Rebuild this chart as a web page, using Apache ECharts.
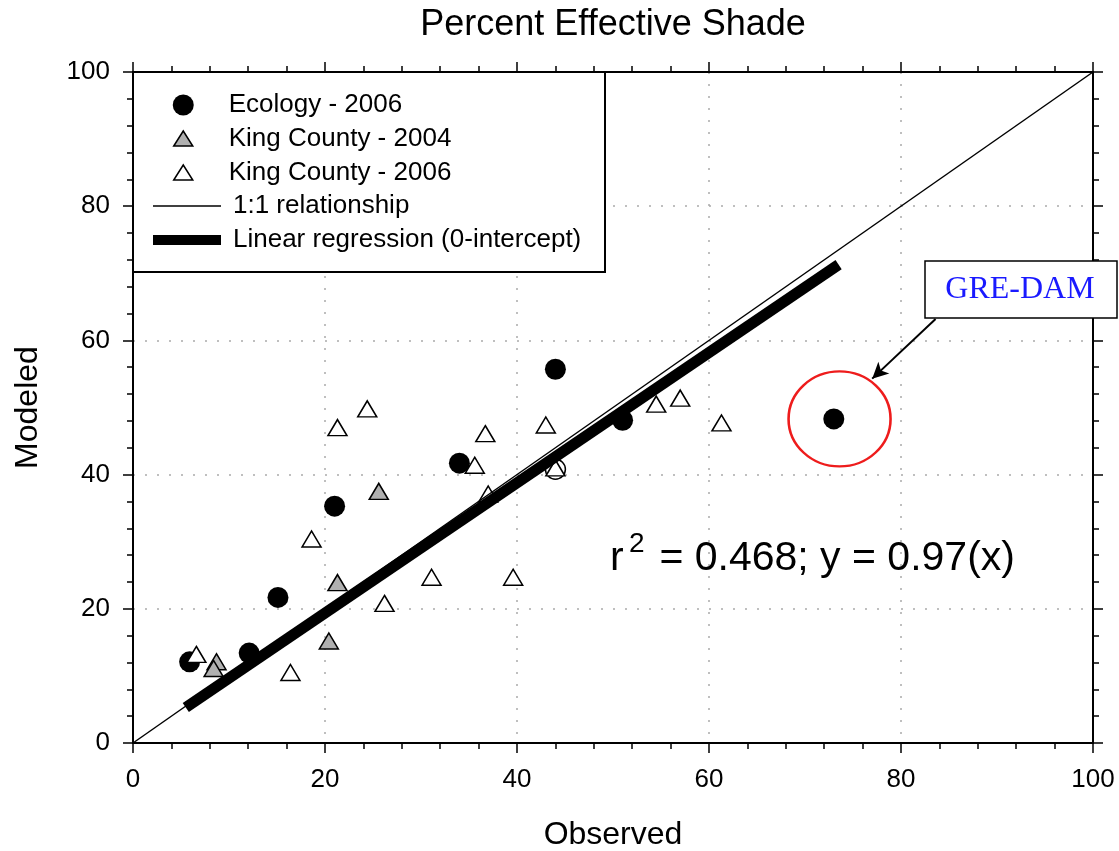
<!DOCTYPE html>
<html>
<head>
<meta charset="utf-8">
<script src="https://cdn.jsdelivr.net/npm/echarts@6/dist/echarts.min.js"></script>
<style>
  html, body { margin: 0; padding: 0; background: #fff; }
  #chart { width: 1119px; height: 851px; }
</style>
</head>
<body>
<div id="chart"></div>
<script>
// values: [observed, modeled]
const ecology2006 = [
  [5.9, 12.1], [12.1, 13.4], [15.1, 21.7], [21.0, 35.3],
  [34.0, 41.7], [44.0, 55.7], [51.0, 48.1], [73.0, 48.3]
];
const ecologyOpen = [[44.0, 40.8]];
const kingCounty2004 = [
  [8.7, 12.1], [8.4, 11.1], [20.4, 15.2], [21.3, 23.9], [25.6, 37.5]
];
const kingCounty2006 = [
  [6.6, 13.2], [16.4, 10.5], [18.6, 30.4], [21.3, 47.0], [24.4, 49.8],
  [26.2, 20.8], [31.1, 24.7], [35.6, 41.4], [36.7, 46.1], [37.0, 37.1],
  [39.6, 24.7], [43.0, 47.4], [44.0, 41.0], [54.5, 50.5], [57.0, 51.4],
  [61.3, 47.7]
];
const oneToOne = [[0, 0], [100, 100]];
const regression = [[5.5, 5.3], [73.5, 71.3]];
const greDam = [[73.6, 48.3]];
const arrowFrom = [83.6, 63.2];
const arrowTo = [77.0, 54.3];
const axisTicks = [0, 20, 40, 60, 80, 100];

const FONT = 'Liberation Sans, Arial, sans-serif';
const chart = echarts.init(document.getElementById('chart'));

function baseAxis(pos, showLabel) {
  return {
    type: 'value',
    position: pos,
    min: axisTicks[0],
    max: axisTicks[axisTicks.length - 1],
    interval: axisTicks[1] - axisTicks[0],
    axisLine: { show: true, onZero: false, lineStyle: { color: '#000', width: 2 } },
    axisTick: { show: true, inside: false, length: 10, lineStyle: { color: '#000', width: 1.5 } },
    minorTick: { show: true, splitNumber: 5, length: 6, lineStyle: { color: '#000', width: 1.5 } },
    splitLine: showLabel
      ? { show: true, lineStyle: { color: '#aaa', width: 1.5, type: [2, 10] } }
      : { show: false },
    axisLabel: { show: showLabel, color: '#000', fontSize: 26, fontFamily: FONT }
  };
}

const xBottom = baseAxis('bottom', true);
xBottom.axisLabel.margin = 24;
xBottom.name = 'Observed';
xBottom.nameLocation = 'middle';
xBottom.nameGap = 76;
xBottom.nameTextStyle = { color: '#000', fontSize: 32, fontFamily: FONT };

const yLeft = baseAxis('left', true);
yLeft.axisLabel.margin = 23;
yLeft.name = 'Modeled';
yLeft.nameLocation = 'middle';
yLeft.nameGap = 89;
yLeft.nameTextStyle = { color: '#000', fontSize: 32, fontFamily: FONT };

const triSize = [19, 16];
const noDot = { color: 'rgba(0,0,0,0)', borderWidth: 0 };
// legend triangle drawn smaller than the legend circle (box kept 21x21)
const legendTri = 'path://M0,0 M21,21 M1,17.5 L10.5,2.5 L20,17.5 Z';

chart.setOption({
  backgroundColor: '#fff',
  animation: false,
  title: {
    text: 'Percent Effective Shade',
    left: 613,
    textAlign: 'center',
    top: 7,
    padding: 0,
    textStyle: { color: '#000', fontSize: 36, fontWeight: 'normal', fontFamily: FONT }
  },
  grid: { left: 133, right: 26, top: 72, bottom: 108, containLabel: false, outerBoundsMode: 'none' },
  xAxis: [xBottom, baseAxis('top', false)],
  yAxis: [yLeft, baseAxis('right', false)],
  legend: [
    {
      orient: 'vertical',
      z: 10,
      padding: 0,
      left: 172,
      top: 88,
      itemWidth: 21,
      itemHeight: 21,
      itemGap: 0,
      textStyle: { color: '#000', fontSize: 26, fontFamily: FONT, lineHeight: 34, padding: [0, 0, 0, 30] },
      data: [
        { name: 'Ecology - 2006', icon: 'circle', itemStyle: { borderWidth: 0 } },
        { name: 'King County - 2004', icon: legendTri, itemStyle: { borderWidth: 1.5, borderColor: '#000' } },
        { name: 'King County - 2006', icon: legendTri, itemStyle: { borderWidth: 1.5, borderColor: '#000' } }
      ]
    },
    {
      orient: 'vertical',
      z: 10,
      padding: 0,
      left: 148,
      top: 189,
      itemWidth: 68,
      itemHeight: 12,
      itemGap: 0,
      textStyle: { color: '#000', fontSize: 26, fontFamily: FONT, lineHeight: 34, padding: [0, 0, 0, 7] },
      data: [
        { name: '1:1 relationship', lineStyle: { width: 1.5 }, itemStyle: noDot },
        { name: 'Linear regression (0-intercept)', lineStyle: { width: 10 }, itemStyle: noDot }
      ]
    }
  ],
  graphic: [
    {
      type: 'rect',
      z: 5,
      shape: { x: 133, y: 72, width: 472, height: 200 },
      style: { fill: '#fff', stroke: '#000', lineWidth: 2 }
    },
    {
      type: 'rect',
      z: 20,
      shape: { x: 925, y: 261, width: 192, height: 57 },
      style: { fill: '#fff', stroke: '#000', lineWidth: 1.5 }
    },
    {
      type: 'text',
      z: 21,
      x: 1020,
      y: 290,
      style: {
        text: 'GRE-DAM',
        fill: '#1a1aff',
        font: '32px "Liberation Serif", "Times New Roman", serif',
        textAlign: 'center',
        textVerticalAlign: 'middle'
      }
    },
    {
      type: 'text', z: 10, x: 610, y: 559,
      style: { text: 'r', fill: '#000', font: '41px ' + FONT, textAlign: 'left', textVerticalAlign: 'middle' }
    },
    {
      type: 'text', z: 10, x: 629, y: 544,
      style: { text: '2', fill: '#000', font: '28px ' + FONT, textAlign: 'left', textVerticalAlign: 'middle' }
    },
    {
      type: 'text', z: 10, x: 648, y: 559,
      style: { text: ' = 0.468; y = 0.97(x)', fill: '#000', font: '41px ' + FONT, textAlign: 'left', textVerticalAlign: 'middle' }
    }
  ],
  series: [
    {
      name: 'Ecology - 2006',
      type: 'scatter',
      data: ecology2006,
      symbol: 'circle',
      symbolSize: 21,
      itemStyle: { color: '#000', opacity: 1 },
      z: 3
    },
    {
      name: 'Ecology (open)',
      type: 'scatter',
      data: ecologyOpen,
      symbol: 'circle',
      symbolSize: 20,
      itemStyle: { color: 'rgba(0,0,0,0)', borderColor: '#000', borderWidth: 1.5, opacity: 1 },
      z: 3
    },
    {
      name: 'King County - 2004',
      type: 'scatter',
      data: kingCounty2004,
      symbol: 'triangle',
      symbolSize: triSize,
      itemStyle: { color: '#b0b0b0', borderColor: '#000', borderWidth: 1.5, opacity: 1 },
      z: 3
    },
    {
      name: 'King County - 2006',
      type: 'scatter',
      data: kingCounty2006,
      symbol: 'triangle',
      symbolSize: triSize,
      itemStyle: { color: '#fff', borderColor: '#000', borderWidth: 1.5, opacity: 1 },
      z: 3
    },
    {
      name: '1:1 relationship',
      type: 'line',
      data: oneToOne,
      symbol: 'none',
      color: '#000',
      lineStyle: { color: '#000', width: 1.5 },
      z: 4
    },
    {
      name: 'Linear regression (0-intercept)',
      type: 'line',
      data: regression,
      symbol: 'none',
      color: '#000',
      lineStyle: { color: '#000', width: 11, cap: 'butt' },
      z: 4
    },
    {
      name: 'GRE-DAM ring',
      type: 'scatter',
      data: greDam,
      symbol: 'circle',
      symbolSize: [102, 95],
      itemStyle: { color: 'rgba(0,0,0,0)', borderColor: '#ee1c1c', borderWidth: 2.5, opacity: 1 },
      silent: true,
      z: 4,
      markLine: {
        silent: true,
        symbol: ['none', 'arrow'],
        symbolSize: [12, 16],
        label: { show: false },
        lineStyle: { color: '#000', width: 2, type: 'solid' },
        data: [[{ coord: arrowFrom }, { coord: arrowTo }]]
      }
    }
  ]
});
</script>
</body>
</html>
